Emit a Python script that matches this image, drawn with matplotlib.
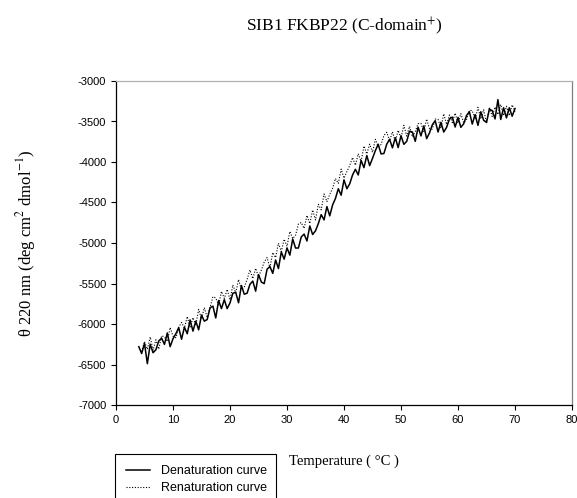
import numpy as np
import matplotlib
matplotlib.use("Agg")
import matplotlib.pyplot as plt

# ---- data ----
temp_denat = np.arange(4.0, 70.01, 0.5)
theta_denat = [
    -6280, -6365, -6240, -6490, -6250, -6355, -6318, -6210, -6175, -6252,
    -6110, -6280, -6182, -6120, -6045, -6188, -6040, -6120, -5950, -6088,
    -5965, -6072, -5890, -5965, -5945, -5800, -5780, -5925, -5710, -5810,
    -5700, -5810, -5740, -5620, -5610, -5738, -5525, -5632, -5620, -5510,
    -5470, -5595, -5390, -5482, -5502, -5325, -5290, -5375, -5210, -5315,
    -5110, -5200, -5060, -5150, -4950, -5062, -5062, -4925, -4890, -4975,
    -4790, -4895, -4850, -4760, -4650, -4715, -4550, -4665, -4530, -4450,
    -4330, -4410, -4220, -4330, -4270, -4160, -4090, -4160, -3980, -4070,
    -3920, -4045, -3955, -3860, -3780, -3900, -3895, -3780, -3720, -3825,
    -3700, -3822, -3675, -3782, -3745, -3620, -3630, -3745, -3570, -3678,
    -3555, -3712, -3640, -3540, -3490, -3630, -3510, -3630, -3572, -3470,
    -3445, -3568, -3450, -3572, -3528, -3425, -3380, -3532, -3415, -3548,
    -3380, -3485, -3512, -3350, -3365, -3468, -3230, -3475, -3330, -3455,
    -3330, -3435, -3340,
]

temp_renat = np.arange(4.5, 70.01, 0.5)
theta_renat = [
    -6343, -6215, -6313, -6160, -6323, -6195, -6311, -6145, -6160, -6215,
    -6043, -6150, -6170, -6040, -5981, -6050, -5908, -6045, -5921, -6015,
    -5820, -5935, -5798, -5920, -5795, -5663, -5678, -5770, -5598, -5685,
    -5573, -5700, -5518, -5615, -5451, -5575, -5545, -5450, -5333, -5440,
    -5313, -5415, -5335, -5235, -5180, -5305, -5118, -5180, -5003, -5105,
    -4953, -5040, -4858, -4945, -4905, -4765, -4747, -4820, -4660, -4760,
    -4593, -4715, -4523, -4590, -4395, -4490, -4400, -4325, -4203, -4265,
    -4088, -4200, -4120, -4045, -3945, -4040, -3898, -3995, -3803, -3900,
    -3780, -3880, -3720, -3810, -3785, -3673, -3633, -3740, -3628, -3745,
    -3610, -3705, -3547, -3680, -3560, -3690, -3623, -3527, -3523, -3622,
    -3470, -3590, -3592, -3471, -3473, -3584, -3405, -3536, -3419, -3513,
    -3397, -3520, -3403, -3517, -3474, -3361, -3367, -3471, -3325, -3468,
    -3354, -3520, -3323, -3437, -3321, -3414, -3290, -3426, -3312, -3428,
    -3294, -3380,
]

x_ticks = [0, 10, 20, 30, 40, 50, 60, 70, 80]
y_ticks = [-7000, -6500, -6000, -5500, -5000, -4500, -4000, -3500, -3000]

title = "SIB1 FKBP22 (C-domain$^{+}$)"
xlabel = "Temperature ( \u00b0C )"
ylabel = "\u03b8 220 nm (deg cm$^{2}$ dmol$^{-1}$)"
labels = ["Denaturation curve", "Renaturation curve"]

# ---- figure ----
plt.rcParams["mathtext.fontset"] = "stix"
plt.rcParams["axes.unicode_minus"] = False
plt.rcParams["font.family"] = ["Liberation Sans", "DejaVu Sans"]

W, H = 577, 498
fig = plt.figure(figsize=(W / 100, H / 100), dpi=100)
left, right, top, bottom = 116, 572, 81, 405
ax = fig.add_axes([left / W, 1 - bottom / H, (right - left) / W, (bottom - top) / H])

ax.plot(temp_denat, theta_denat, color="black", lw=1.1, ls="-", label=labels[0])
ax.plot(temp_renat, theta_renat, color="black", lw=0.8, ls=(0, (1, 1.5)), label=labels[1])

ax.set_xlim(0, 80)
ax.set_ylim(-7000, -3000)
ax.set_xticks(x_ticks)
ax.set_yticks(y_ticks)
ax.tick_params(direction="out", length=3.5, width=0.8, labelsize=8, colors="black")

for s in ["left", "bottom"]:
    ax.spines[s].set_color("black")
    ax.spines[s].set_linewidth(0.9)
ax.spines["top"].set_color("#b0b0b0")
ax.spines["right"].set_color("#808080")
ax.spines["top"].set_linewidth(0.9)
ax.spines["right"].set_linewidth(0.9)

serif = ["Liberation Serif", "DejaVu Serif"]
fig.text(344 / W, 1 - 26 / H, title, ha="center", va="center",
         fontsize=12.5, family=serif)
ax.set_xlabel(xlabel, fontsize=10.5, family=serif)
ax.xaxis.set_label_coords(0.5, -(455 - bottom) / (bottom - top))
ax.set_ylabel(ylabel, fontsize=12, family=serif)
ax.yaxis.set_label_coords(-(left - 38) / (right - left), 0.5)

leg_h = 52
fig.legend(loc="upper left",
           bbox_to_anchor=(115 / W, 1 - (454 + leg_h) / H, 161 / W, leg_h / H),
           mode="expand", fontsize=9, frameon=True, fancybox=False,
           edgecolor="black", framealpha=1, handlelength=1.9, handletextpad=0.9,
           borderpad=0.9, labelspacing=0.4, borderaxespad=0)
fig.legends[0].get_frame().set_linewidth(0.8)

fig.savefig("out.png", dpi=100)
